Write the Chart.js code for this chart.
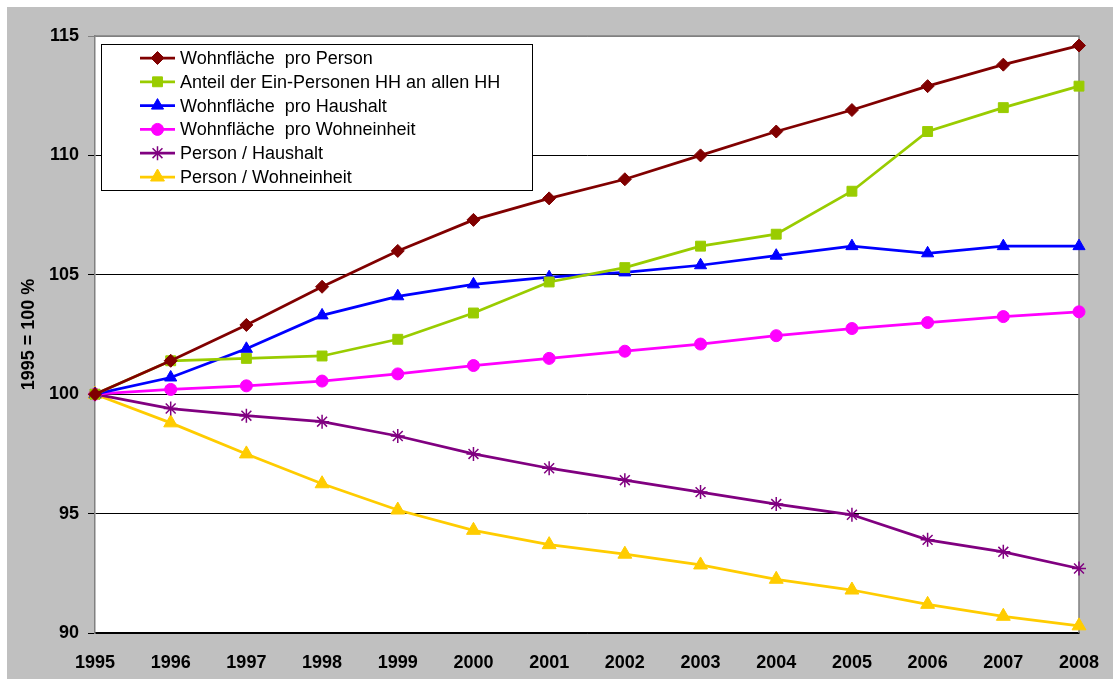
<!DOCTYPE html>
<html>
<head>
<meta charset="utf-8">
<script src="https://cdn.jsdelivr.net/npm/chart.js@4/dist/chart.umd.min.js"></script>
<style>
    body { margin: 0; background: #fff; }
    #wrap { position: absolute; left: 7px; top: 7px; width: 1106px; height: 672px; background: #c0c0c0; }
</style>
</head>
<body>
<div id="wrap"><canvas id="chart" width="1106" height="672"></canvas></div>
<script>
// Values indexed 1995 = 100
const years = ['1995', '1996', '1997', '1998', '1999', '2000', '2001', '2002', '2003', '2004', '2005', '2006', '2007', '2008'];
const yTicks = [90, 95, 100, 105, 110, 115];

const wohnflaechePerson = [100, 101.4, 102.9, 104.5, 106.0, 107.3, 108.2, 109.0, 110.0, 111.0, 111.9, 112.9, 113.8, 114.6];
const anteilEinPersonen = [100, 101.4, 101.5, 101.6, 102.3, 103.4, 104.7, 105.3, 106.2, 106.7, 108.5, 111.0, 112.0, 112.9];
const wohnflaecheHaushalt = [100, 100.7, 101.9, 103.3, 104.1, 104.6, 104.9, 105.1, 105.4, 105.8, 106.2, 105.9, 106.2, 106.2];
const wohnflaecheWohneinheit = [100, 100.2, 100.35, 100.55, 100.85, 101.2, 101.5, 101.8, 102.1, 102.45, 102.75, 103.0, 103.25, 103.45];
const personHaushalt = [100, 99.4, 99.1, 98.85, 98.25, 97.5, 96.9, 96.4, 95.9, 95.4, 94.95, 93.9, 93.4, 92.7];
const personWohneinheit = [100, 98.8, 97.5, 96.25, 95.15, 94.3, 93.7, 93.3, 92.85, 92.25, 91.8, 91.2, 90.7, 90.3];

const FONT = 'Arial, "Liberation Sans", sans-serif';

function series(label, values, color, pointStyle, radius) {
    return {
        label: label,
        data: values,
        borderColor: color,
        backgroundColor: color,
        borderWidth: 2.75,
        pointStyle: pointStyle,
        pointRadius: radius,
        pointHoverRadius: radius,
        pointBorderWidth: pointStyle === 'star' ? 1.5 : 1,
        tension: 0,
        clip: 10
    };
}

// White plot area plus grey top/right frame
const plotFrame = {
    id: 'plotFrame',
    beforeDraw(chart) {
        const { ctx, chartArea: a } = chart;
        ctx.save();
        ctx.fillStyle = '#fff';
        ctx.fillRect(a.left, a.top, a.right - a.left, a.bottom - a.top);
        ctx.restore();
    },
    beforeDatasetsDraw(chart) {
        const { ctx, chartArea: a } = chart;
        ctx.save();
        ctx.strokeStyle = '#808080';
        ctx.lineWidth = 1.5;
        ctx.beginPath();
        ctx.moveTo(a.left, a.top);
        ctx.lineTo(a.right, a.top);
        ctx.lineTo(a.right, a.bottom);
        ctx.stroke();
        ctx.restore();
    }
};

// Excel style legend box: line sample with marker in the middle
const boxLegend = {
    id: 'boxLegend',
    afterDraw(chart) {
        const ctx = chart.ctx;
        const x0 = 94, y0 = 37, w = 431, h = 146;
        ctx.save();
        ctx.fillStyle = '#fff';
        ctx.fillRect(x0, y0, w, h);
        ctx.strokeStyle = '#000';
        ctx.lineWidth = 1;
        ctx.strokeRect(x0 + 0.5, y0 + 0.5, w, h);
        ctx.font = '18px ' + FONT;
        ctx.textBaseline = 'middle';
        chart.data.datasets.forEach((ds, i) => {
            const y = y0 + 14 + i * 23.8;
            ctx.strokeStyle = ds.borderColor;
            ctx.lineWidth = ds.borderWidth;
            ctx.beginPath();
            ctx.moveTo(x0 + 39, y);
            ctx.lineTo(x0 + 74, y);
            ctx.stroke();
            ctx.fillStyle = ds.backgroundColor;
            ctx.lineWidth = ds.pointBorderWidth;
            Chart.helpers.drawPoint(ctx, { pointStyle: ds.pointStyle, radius: ds.pointRadius, borderWidth: ds.pointBorderWidth }, x0 + 56.5, y);
            ctx.fillStyle = '#000';
            ctx.fillText(ds.label, x0 + 79, y + 1);
        });
        ctx.restore();
    }
};

const ctx = document.getElementById('chart').getContext('2d');
new Chart(ctx, {
    type: 'line',
    data: {
        labels: years,
        datasets: [
            series('Wohnfläche  pro Person', wohnflaechePerson, '#800000', 'rectRot', 6.5),
            series('Anteil der Ein-Personen HH an allen HH', anteilEinPersonen, '#99cc00', 'rect', 7),
            series('Wohnfläche  pro Haushalt', wohnflaecheHaushalt, '#0000ff', 'triangle', 7),
            series('Wohnfläche  pro Wohneinheit', wohnflaecheWohneinheit, '#ff00ff', 'circle', 6),
            series('Person / Haushalt', personHaushalt, '#800080', 'star', 7),
            series('Person / Wohneinheit', personWohneinheit, '#ffcc00', 'triangle', 8)
        ]
    },
    options: {
        responsive: false,
        animation: false,
        layout: { padding: { top: 29, right: 34, left: 0, bottom: 0 } },
        plugins: {
            legend: { display: false },
            tooltip: { enabled: false }
        },
        scales: {
            x: {
                offset: false,
                grid: { display: false, drawTicks: false },
                border: { color: '#000', width: 1.5 },
                ticks: {
                    color: '#000',
                    padding: 19,
                    maxRotation: 0,
                    font: { family: FONT, size: 18, weight: 'bold' }
                },
                afterFit(scale) {
                    scale.height = 46;
                    scale.paddingLeft = 0;
                    scale.paddingRight = 0;
                }
            },
            y: {
                min: 90,
                max: 115,
                afterBuildTicks(scale) { scale.ticks = yTicks.map(v => ({ value: v })); },
                grid: {
                    color: ctx => ctx.tick && ctx.tick.value === 115 ? '#808080' : '#000',
                    lineWidth: 1,
                    tickLength: 7,
                    drawTicks: true
                },
                border: { color: '#808080', width: 1.5 },
                ticks: {
                    color: '#000',
                    padding: 9,
                    font: { family: FONT, size: 18, weight: 'bold' }
                },
                title: {
                    display: true,
                    text: '1995 = 100 %',
                    color: '#000',
                    padding: { top: 11, bottom: 0 },
                    font: { family: FONT, size: 18, weight: 'bold' }
                },
                afterFit(scale) { scale.width = 88; }
            }
        }
    },
    plugins: [plotFrame, boxLegend]
});
</script>
</body>
</html>
